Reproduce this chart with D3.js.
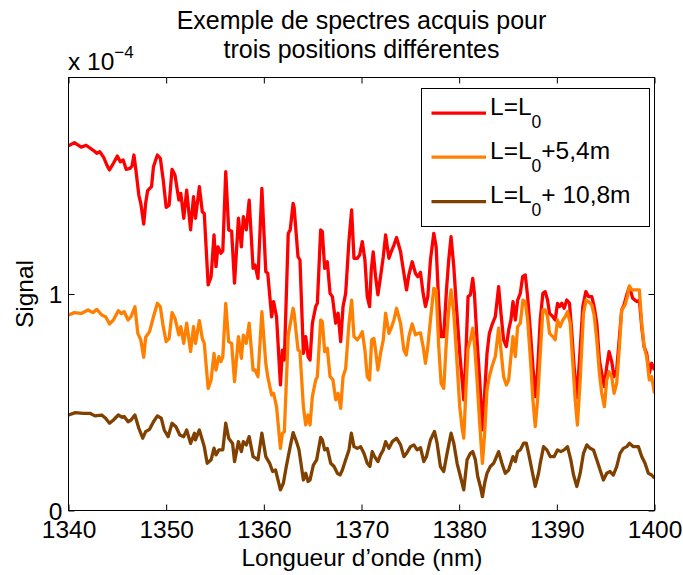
<!DOCTYPE html>
<html>
<head>
<meta charset="utf-8">
<script src="https://cdn.jsdelivr.net/npm/d3@7"></script>
<style>
  html, body { margin: 0; padding: 0; background: #fff; }
  svg { display: block; }
  text { font-family: "Liberation Sans", Arial, Helvetica, sans-serif; fill: #000; }
</style>
</head>
<body>
<svg id="chart" width="683" height="575"></svg>
<script>
// ---- data (wavelength in nm, signal in units of 1e-4) ----
const titleLines = ["Exemple de spectres acquis pour", "trois positions différentes"];
const xTicks = [1340, 1350, 1360, 1370, 1380, 1390, 1400];
const yTicks = [0, 1];
const seriesNames = ["L=L0", "L=L0+5,4m", "L=L0+ 10,8m"];
const seriesColors = ["#ff0000", "#ff8000", "#804000"];

const redL0 = [
[1340.0,1.684],[1340.6,1.699],[1341.3,1.678],[1341.8,1.687],[1342.5,1.665],[1342.9,1.650],[1343.2,1.657],[1343.6,1.631],
[1344.0,1.588],[1344.2,1.573],[1344.6,1.604],[1345.0,1.637],[1345.3,1.611],[1345.6,1.619],[1345.9,1.576],[1346.3,1.580],
[1346.5,1.591],[1346.7,1.642],[1346.9,1.573],[1347.2,1.457],[1347.4,1.419],[1347.7,1.323],[1347.9,1.419],[1348.1,1.477],
[1348.5,1.496],[1348.7,1.588],[1349.1,1.642],[1349.4,1.627],[1349.7,1.527],[1350.0,1.400],[1350.3,1.410],[1350.6,1.576],
[1350.9,1.550],[1351.3,1.434],[1351.5,1.465],[1351.8,1.350],[1352.1,1.480],[1352.5,1.296],[1352.8,1.450],[1353.0,1.350],
[1353.4,1.496],[1353.7,1.380],[1353.9,1.372],[1354.3,1.042],[1354.6,1.080],[1354.9,1.273],[1355.1,1.126],[1355.3,1.218],
[1355.6,1.188],[1355.8,1.200],[1356.1,1.565],[1356.4,1.296],[1356.7,1.290],[1357.0,1.050],[1357.4,1.350],[1357.7,1.218],
[1357.9,1.357],[1358.2,1.296],[1358.5,1.434],[1358.9,1.119],[1359.1,1.134],[1359.4,1.072],[1359.8,1.488],[1360.2,1.103],
[1360.4,1.096],[1360.8,0.895],[1361.0,0.965],[1361.3,0.895],[1361.7,0.580],[1361.9,0.741],[1362.1,0.695],[1362.5,1.280],
[1362.7,1.296],[1363.0,1.419],[1363.1,1.400],[1363.5,1.172],[1363.7,1.157],[1364.05,0.726],[1364.29,0.803],[1364.53,0.711],
[1364.73,0.695],[1364.97,0.865],[1365.31,0.942],[1365.48,0.957],[1365.82,1.296],[1365.99,1.288],[1366.23,1.118],[1366.5,1.149],
[1366.78,1.003],[1367.02,0.988],[1367.36,0.865],[1367.6,0.911],[1367.87,0.780],[1368.11,0.942],[1368.38,1.003],[1368.72,1.249],
[1368.99,1.388],[1369.23,1.165],[1369.57,1.165],[1369.81,1.180],[1370.08,1.242],[1370.35,1.157],[1370.59,0.988],[1370.83,0.942],
[1371.0,1.110],[1371.2,1.195],[1371.44,1.080],[1371.68,0.996],[1371.95,1.080],[1372.23,1.172],[1372.47,1.273],[1372.81,1.165],
[1373.04,1.195],[1373.32,1.226],[1373.59,1.261],[1374.0,1.195],[1374.34,1.095],[1374.61,1.019],[1374.85,1.088],[1375.19,1.149],
[1375.53,1.095],[1375.77,1.080],[1376.04,1.100],[1376.31,1.003],[1376.55,0.942],[1376.79,0.988],[1377.06,1.157],[1377.4,1.280],
[1377.64,1.219],[1377.91,0.957],[1378.15,0.803],[1378.42,0.803],[1378.7,1.019],[1378.93,1.157],[1379.17,1.265],[1379.45,1.126],
[1379.72,0.942],[1380.06,0.726],[1380.3,0.603],[1380.47,0.511],[1380.64,0.665],[1380.91,0.988],[1381.15,0.996],[1381.39,1.072],
[1381.56,1.003],[1381.83,0.788],[1382.1,0.603],[1382.38,0.372],[1382.61,0.541],[1382.85,0.726],[1383.09,0.818],[1383.36,0.857],
[1383.7,0.895],[1384.04,1.034],[1384.28,0.911],[1384.55,0.788],[1384.83,0.757],[1385.07,0.834],[1385.3,0.880],[1385.51,0.965],
[1385.75,0.880],[1385.99,0.972],[1386.26,1.003],[1386.5,1.080],[1386.77,1.088],[1387.01,0.988],[1387.28,0.834],[1387.55,0.665],
[1387.79,0.526],[1388.03,0.649],[1388.3,0.880],[1388.57,1.003],[1388.81,1.011],[1389.05,0.972],[1389.25,0.911],[1389.59,0.895],
[1389.83,0.880],[1390.07,0.957],[1390.28,0.942],[1390.51,0.957],[1390.75,0.934],[1391.02,0.972],[1391.3,0.957],[1391.54,0.818],
[1391.77,0.665],[1392.05,0.520],[1392.32,0.695],[1392.66,0.942],[1392.97,1.011],[1393.24,0.988],[1393.58,0.988],[1393.82,0.942],
[1394.09,0.865],[1394.36,0.695],[1394.6,0.634],[1394.87,0.572],[1395.11,0.665],[1395.35,0.734],[1395.62,0.688],[1395.86,0.618],
[1396.13,0.649],[1396.41,0.803],[1396.64,0.926],[1396.88,0.950],[1397.16,0.996],[1397.43,1.034],[1397.77,0.980],[1398.18,0.965],
[1398.45,0.972],[1398.69,0.849],[1398.93,0.757],[1399.2,0.726],[1399.47,0.634],[1399.71,0.680],[1400.0,0.649]
];

const orangeL0p54 = [
[1340.0,0.903],[1340.6,0.914],[1341.3,0.910],[1342.0,0.926],[1342.5,0.914],[1342.9,0.929],[1343.4,0.903],[1343.8,0.895],
[1344.2,0.861],[1344.6,0.880],[1345.1,0.923],[1345.4,0.910],[1345.7,0.918],[1346.1,0.880],[1346.4,0.895],[1346.8,0.941],
[1347.1,0.818],[1347.4,0.788],[1347.7,0.708],[1347.9,0.800],[1348.3,0.826],[1348.7,0.895],[1349.1,0.957],[1349.4,0.941],
[1349.7,0.849],[1350.0,0.780],[1350.3,0.795],[1350.6,0.914],[1350.9,0.888],[1351.3,0.811],[1351.5,0.849],[1351.8,0.772],
[1352.1,0.865],[1352.5,0.734],[1352.8,0.849],[1353.0,0.772],[1353.4,0.877],[1353.7,0.795],[1353.9,0.772],[1354.3,0.564],
[1354.6,0.603],[1354.9,0.726],[1355.1,0.649],[1355.4,0.711],[1355.6,0.687],[1355.8,0.711],[1356.1,0.957],[1356.4,0.780],
[1356.7,0.772],[1357.0,0.595],[1357.4,0.803],[1357.7,0.703],[1357.9,0.810],[1358.2,0.772],[1358.5,0.865],[1358.9,0.649],
[1359.1,0.649],[1359.4,0.618],[1359.8,0.918],[1360.2,0.680],[1360.4,0.618],[1360.8,0.533],[1361.0,0.541],[1361.3,0.480],
[1361.7,0.287],[1361.9,0.356],[1362.1,0.364],[1362.5,0.810],[1363.0,0.934],[1363.1,0.911],[1363.5,0.742],[1363.7,0.734],
[1364.05,0.480],[1364.29,0.395],[1364.53,0.441],[1364.73,0.395],[1364.97,0.526],[1365.31,0.603],[1365.48,0.618],[1365.82,0.880],
[1365.99,0.872],[1366.23,0.734],[1366.5,0.749],[1366.78,0.618],[1367.08,0.603],[1367.36,0.511],[1367.6,0.541],[1367.87,0.472],
[1368.11,0.618],[1368.38,0.656],[1368.72,0.865],[1368.99,0.972],[1369.23,0.803],[1369.57,0.788],[1369.81,0.803],[1370.08,0.826],
[1370.35,0.741],[1370.59,0.618],[1370.83,0.603],[1371.04,0.788],[1371.27,0.795],[1371.44,0.741],[1371.68,0.649],[1371.95,0.726],
[1372.23,0.788],[1372.47,0.911],[1372.81,0.818],[1373.04,0.842],[1373.32,0.880],[1373.59,0.934],[1374.0,0.865],[1374.34,0.741],
[1374.58,0.718],[1374.85,0.803],[1375.19,0.862],[1375.53,0.811],[1375.77,0.818],[1376.04,0.820],[1376.31,0.757],[1376.55,0.680],
[1376.79,0.757],[1377.06,0.880],[1377.4,1.026],[1377.64,1.019],[1377.91,0.757],[1378.15,0.588],[1378.42,0.564],[1378.7,0.788],
[1378.93,0.926],[1379.17,1.019],[1379.45,0.911],[1379.72,0.726],[1380.06,0.480],[1380.3,0.380],[1380.47,0.334],[1380.71,0.572],
[1380.91,0.749],[1381.15,0.788],[1381.39,0.842],[1381.59,0.757],[1381.83,0.603],[1382.1,0.403],[1382.38,0.218],[1382.61,0.357],
[1382.85,0.557],[1383.09,0.618],[1383.36,0.665],[1383.7,0.711],[1384.04,0.842],[1384.28,0.741],[1384.55,0.618],[1384.83,0.580],
[1385.07,0.603],[1385.3,0.711],[1385.51,0.803],[1385.75,0.711],[1385.99,0.849],[1386.26,0.865],[1386.53,0.972],[1386.77,0.965],
[1387.01,0.880],[1387.28,0.711],[1387.55,0.511],[1387.79,0.388],[1388.03,0.511],[1388.3,0.720],[1388.57,0.926],[1388.81,0.926],
[1389.05,0.895],[1389.25,0.818],[1389.59,0.803],[1389.83,0.788],[1390.07,0.880],[1390.34,0.849],[1390.62,0.880],[1390.85,0.895],
[1391.09,0.918],[1391.37,0.865],[1391.64,0.680],[1391.88,0.511],[1392.11,0.395],[1392.39,0.603],[1392.73,0.911],[1393.0,0.972],
[1393.24,0.965],[1393.58,0.950],[1393.82,0.903],[1394.09,0.788],[1394.36,0.634],[1394.6,0.541],[1394.87,0.480],[1395.11,0.603],
[1395.35,0.641],[1395.62,0.618],[1395.86,0.541],[1396.13,0.588],[1396.41,0.757],[1396.64,0.926],[1396.99,0.950],[1397.22,0.988],
[1397.43,1.037],[1397.67,1.019],[1398.01,1.019],[1398.45,1.019],[1398.69,0.865],[1398.93,0.757],[1399.2,0.711],[1399.47,0.603],
[1399.71,0.618],[1400.0,0.541]
];

const brownL0p108 = [
[1340.0,0.441],[1340.7,0.452],[1341.5,0.449],[1342.2,0.449],[1342.7,0.437],[1343.4,0.441],[1343.8,0.426],[1344.2,0.403],
[1344.6,0.418],[1345.1,0.441],[1345.5,0.430],[1345.7,0.434],[1346.1,0.410],[1346.4,0.418],[1346.8,0.441],[1347.2,0.380],
[1347.6,0.334],[1347.9,0.364],[1348.3,0.375],[1348.7,0.410],[1349.1,0.437],[1349.5,0.426],[1349.8,0.372],[1350.2,0.341],
[1350.6,0.403],[1351.0,0.387],[1351.4,0.349],[1351.8,0.341],[1352.1,0.372],[1352.5,0.310],[1352.9,0.357],[1353.0,0.326],
[1353.4,0.372],[1353.7,0.326],[1353.9,0.295],[1354.2,0.218],[1354.6,0.234],[1354.9,0.288],[1355.1,0.257],[1355.4,0.280],
[1355.8,0.280],[1356.1,0.403],[1356.4,0.334],[1356.8,0.310],[1357.0,0.226],[1357.4,0.318],[1357.7,0.272],[1357.9,0.318],
[1358.2,0.303],[1358.5,0.341],[1358.9,0.249],[1359.2,0.241],[1359.4,0.234],[1359.8,0.357],[1360.2,0.249],[1360.6,0.218],
[1360.9,0.180],[1361.2,0.187],[1361.7,0.095],[1362.0,0.126],[1362.3,0.203],[1362.7,0.295],[1363.0,0.360],[1363.4,0.310],
[1363.6,0.280],[1364.05,0.141],[1364.29,0.172],[1364.53,0.134],[1364.73,0.141],[1365.07,0.210],[1365.41,0.234],[1365.82,0.338],
[1365.99,0.326],[1366.23,0.280],[1366.5,0.287],[1366.85,0.218],[1367.19,0.203],[1367.53,0.172],[1367.8,0.164],[1368.04,0.187],
[1368.38,0.234],[1368.72,0.280],[1368.96,0.357],[1369.23,0.295],[1369.57,0.287],[1369.91,0.295],[1370.25,0.264],[1370.59,0.218],
[1370.86,0.203],[1371.1,0.272],[1371.34,0.249],[1371.68,0.226],[1371.95,0.257],[1372.23,0.280],[1372.47,0.318],[1372.81,0.287],
[1373.15,0.318],[1373.59,0.334],[1374.0,0.303],[1374.34,0.249],[1374.61,0.264],[1375.02,0.295],[1375.36,0.303],[1375.7,0.280],
[1376.04,0.290],[1376.38,0.226],[1376.65,0.249],[1377.06,0.326],[1377.47,0.365],[1377.74,0.311],[1378.08,0.203],[1378.42,0.180],
[1378.76,0.264],[1379.17,0.357],[1379.45,0.311],[1379.79,0.218],[1380.13,0.157],[1380.47,0.095],[1380.81,0.234],[1381.15,0.264],
[1381.39,0.272],[1381.66,0.234],[1381.9,0.157],[1382.17,0.111],[1382.38,0.064],[1382.61,0.126],[1382.85,0.172],[1383.19,0.203],
[1383.53,0.218],[1384.04,0.272],[1384.38,0.218],[1384.72,0.172],[1385.07,0.187],[1385.51,0.249],[1385.75,0.226],[1385.99,0.272],
[1386.26,0.280],[1386.6,0.311],[1386.87,0.311],[1387.11,0.264],[1387.45,0.187],[1387.79,0.111],[1388.13,0.172],[1388.3,0.218],
[1388.64,0.295],[1388.98,0.280],[1389.32,0.249],[1389.73,0.249],[1390.07,0.280],[1390.41,0.272],[1390.75,0.280],[1391.09,0.295],
[1391.43,0.234],[1391.71,0.164],[1392.05,0.111],[1392.39,0.172],[1392.73,0.264],[1393.07,0.303],[1393.41,0.287],[1393.75,0.280],
[1394.09,0.234],[1394.43,0.187],[1394.77,0.141],[1395.11,0.172],[1395.45,0.180],[1395.79,0.164],[1396.13,0.203],[1396.47,0.264],
[1396.81,0.287],[1397.16,0.295],[1397.43,0.311],[1397.84,0.295],[1398.35,0.295],[1398.69,0.249],[1399.03,0.218],[1399.37,0.172],
[1399.71,0.164],[1400.0,0.149]
];

const allSeries = [redL0, orangeL0p54, brownL0p108];

// ---- layout ----
const svg = d3.select("#chart");
const L = 68.5, R = 654.5, T = 77.5, B = 510.5;
const FS = 24.5;

svg.append("rect").attr("width", 683).attr("height", 575).attr("fill", "#fff");

const x = d3.scaleLinear().domain([1340, 1400]).range([L, R]);
const y = d3.scaleLinear().domain([0, 2]).range([B, T]);

// curves
const line = d3.line().x(d => x(d[0])).y(d => y(d[1]));
const plot = svg.append("g");
plot.append("clipPath").attr("id", "clip").append("rect")
  .attr("x", L).attr("y", T).attr("width", R - L).attr("height", B - T);
allSeries.forEach((s, i) => {
  plot.append("path").datum(s)
    .attr("clip-path", "url(#clip)")
    .attr("d", line)
    .attr("fill", "none")
    .attr("stroke", seriesColors[i])
    .attr("stroke-width", 3.3)
    .attr("stroke-linejoin", "round");
});

// axes (inward ticks, mirrored)
const tickLen = 6;
const axB = svg.append("g").attr("transform", `translate(0,${B})`)
  .call(d3.axisBottom(x).tickValues(xTicks).tickSizeInner(-tickLen).tickSizeOuter(0).tickFormat(d3.format("d")));
const axT = svg.append("g").attr("transform", `translate(0,${T})`)
  .call(d3.axisTop(x).tickValues(xTicks).tickSizeInner(-tickLen).tickSizeOuter(0).tickFormat(""));
const axL = svg.append("g").attr("transform", `translate(${L},0)`)
  .call(d3.axisLeft(y).tickValues(yTicks).tickSizeInner(-tickLen).tickSizeOuter(0).tickFormat(d3.format("d")));
const axR = svg.append("g").attr("transform", `translate(${R},0)`)
  .call(d3.axisRight(y).tickValues(yTicks).tickSizeInner(-tickLen).tickSizeOuter(0).tickFormat(""));
[axB, axT, axL, axR].forEach(a => {
  a.select(".domain").remove();
  a.selectAll(".tick line").attr("stroke", "#000").attr("stroke-width", 1);
  a.selectAll("text").attr("font-size", FS).attr("font-family", "Liberation Sans, Arial, sans-serif").attr("fill", "#000");
});
axB.selectAll(".tick text").attr("dy", null).attr("y", 537.5 - B);
axL.selectAll(".tick text").attr("dy", null).attr("x", 62.5 - L).attr("y", 8.6);

// box
svg.append("rect").attr("x", L).attr("y", T).attr("width", R - L).attr("height", B - T)
  .attr("fill", "none").attr("stroke", "#000").attr("stroke-width", 1);

// title
svg.append("text").attr("x", (L + R) / 2).attr("y", 29).attr("text-anchor", "middle")
  .attr("font-size", 25).text(titleLines[0]);
svg.append("text").attr("x", (L + R) / 2).attr("y", 57.5).attr("text-anchor", "middle")
  .attr("font-size", 25).text(titleLines[1]);

// exponent
const ex = svg.append("text").attr("x", 68).attr("y", 70).attr("font-size", FS);
ex.append("tspan").text("x 10");
ex.append("tspan").attr("font-size", 17).attr("dy", -12).text("\u22124");

// axis labels
svg.append("text").attr("x", (L + R) / 2 + 0.5).attr("y", 566).attr("text-anchor", "middle")
  .attr("font-size", FS).text("Longueur d\u2019onde (nm)");
svg.append("text").attr("transform", "translate(33,294) rotate(-90)").attr("text-anchor", "middle")
  .attr("font-size", FS).text("Signal");

// legend
const lg = svg.append("g");
lg.append("rect").attr("x", 421.5).attr("y", 88.5).attr("width", 228).attr("height", 138)
  .attr("fill", "#fff").attr("stroke", "#000").attr("stroke-width", 1);
const rowsY = [114.5, 158.5, 203];
seriesNames.forEach((name, i) => {
  const yy = rowsY[i];
  lg.append("line").attr("x1", 431.5).attr("x2", 486).attr("y1", yy - 1.3).attr("y2", yy - 1.3)
    .attr("stroke", seriesColors[i]).attr("stroke-width", 3.3);
  const t = lg.append("text").attr("x", 490).attr("y", yy).attr("font-size", FS);
  const parts = name.split("L0");
  t.append("tspan").text(parts[0] + "L");
  t.append("tspan").attr("font-size", 17.5).attr("dy", 13).text("0");
  if (parts[1]) t.append("tspan").attr("dy", -13).text(parts[1]);
});
</script>
</body>
</html>
